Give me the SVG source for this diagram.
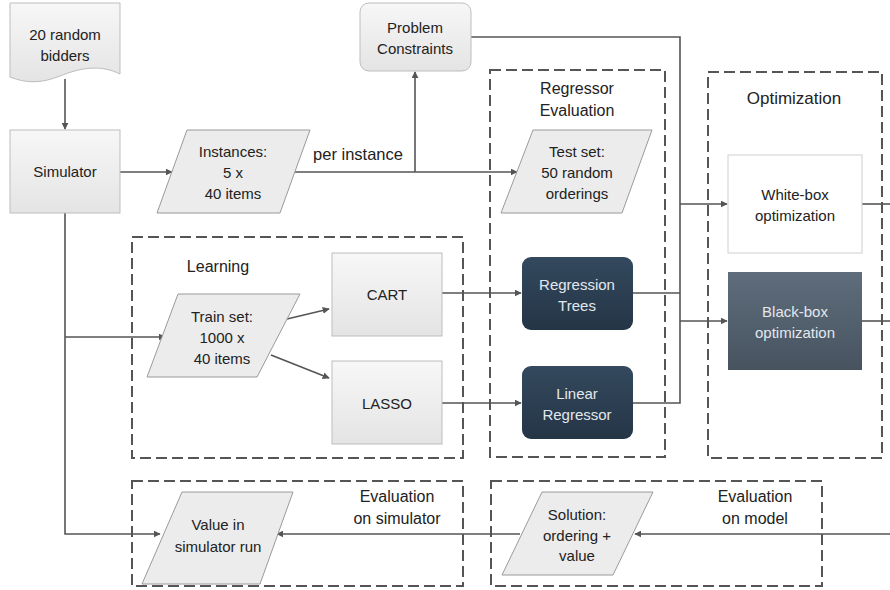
<svg xmlns="http://www.w3.org/2000/svg" width="890" height="590" viewBox="0 0 890 590">
<defs>
<linearGradient id="gLight" x1="0" y1="0" x2="0" y2="1"><stop offset="0" stop-color="#f7f7f7"/><stop offset="1" stop-color="#e4e4e4"/></linearGradient>
<linearGradient id="gNavy" x1="0" y1="0" x2="0" y2="1"><stop offset="0" stop-color="#34495e"/><stop offset="1" stop-color="#243546"/></linearGradient>
<linearGradient id="gSlate" x1="0" y1="0" x2="0" y2="1"><stop offset="0" stop-color="#5f6d7c"/><stop offset="1" stop-color="#47535f"/></linearGradient>
<marker id="arr" viewBox="0 0 10 10" refX="9" refY="5" markerWidth="7" markerHeight="7" markerUnits="userSpaceOnUse" orient="auto"><path d="M0,0 L10,5 L0,10 z" fill="#555"/></marker>
</defs>
<style>
text{font-family:"Liberation Sans",Arial,sans-serif;font-size:15px;fill:#222;text-anchor:middle}
.box{fill:url(#gLight);stroke:#bdbdbd;stroke-width:1}
.para{fill:#ececec;stroke:#9a9a9a;stroke-width:1}
.dark{fill:url(#gNavy);stroke:none}
.dtext{fill:#e3e8ee}
.group{fill:none;stroke:#555;stroke-width:2;stroke-dasharray:11 5}
.conn{fill:none;stroke:#555;stroke-width:1.6}
.arrow{marker-end:url(#arr)}
.ttl{font-size:16px}
</style>
<rect width="890" height="590" fill="#fff"/>

<g id="groups">
<rect id="learning" class="group" x="132" y="237" width="331" height="221"/>
<rect id="regressor-eval" class="group" x="490" y="70" width="175" height="387"/>
<rect id="optimization" class="group" x="708" y="72" width="174" height="386"/>
<rect id="eval-sim" class="group" x="132" y="481" width="331" height="105"/>
<rect id="eval-model" class="group" x="491" y="481" width="331" height="105"/>
<text class="ttl" x="218" y="272">Learning</text>
<text class="ttl" x="577" y="94">Regressor</text>
<text class="ttl" x="577" y="116">Evaluation</text>
<text class="ttl" x="794" y="104" style="font-size:17px">Optimization</text>
<text class="ttl" x="397" y="502">Evaluation</text>
<text class="ttl" x="397" y="524">on simulator</text>
<text class="ttl" x="755" y="502">Evaluation</text>
<text class="ttl" x="755" y="524">on model</text>
</g>

<g id="connectors">
<line class="conn arrow" x1="65" y1="79" x2="65" y2="129"/>
<line class="conn arrow" x1="120" y1="172" x2="172" y2="172"/>
<line class="conn arrow" x1="295" y1="172" x2="517" y2="172"/>
<line class="conn arrow" x1="415" y1="172" x2="415" y2="72"/>
<text x="358" y="160" style="font-size:16.5px">per instance</text>
<polyline class="conn" points="471,37 680,37 680,403 633,403"/>
<line class="conn" x1="633" y1="293" x2="680" y2="293"/>
<line class="conn arrow" x1="680" y1="204" x2="727" y2="204"/>
<line class="conn arrow" x1="680" y1="321" x2="727" y2="321"/>
<line class="conn" x1="862" y1="204" x2="890" y2="204"/>
<line class="conn" x1="862" y1="321" x2="890" y2="321"/>
<polyline class="conn" points="65,213 65,534 160,534" marker-end="url(#arr)"/>
<line class="conn arrow" x1="65" y1="337" x2="165" y2="337"/>
<line class="conn arrow" x1="287" y1="319" x2="329" y2="309"/>
<line class="conn arrow" x1="271" y1="355" x2="329" y2="378"/>
<line class="conn arrow" x1="442" y1="293" x2="521" y2="293"/>
<line class="conn arrow" x1="442" y1="403" x2="521" y2="403"/>
<line class="conn arrow" x1="890" y1="534" x2="635" y2="534"/>
<line class="conn arrow" x1="520" y1="534" x2="277" y2="534"/>
</g>

<g id="bidders">
<path class="box" d="M10,3 H120 V74 C100,64 80,68 60,76 C42,83 28,84 10,77 Z"/>
<text x="65" y="40">20 random</text>
<text x="65" y="61">bidders</text>
</g>
<g id="simulator">
<rect class="box" x="10" y="130" width="110" height="83"/>
<text x="65" y="177">Simulator</text>
</g>
<g id="instances">
<polygon class="para" points="187,130 310,130 280,213 157,213"/>
<text x="233" y="157">Instances:</text>
<text x="233" y="178">5 x</text>
<text x="233" y="199">40 items</text>
</g>
<g id="constraints">
<rect class="box" x="360" y="3" width="111" height="68" rx="9"/>
<text x="415" y="33">Problem</text>
<text x="415" y="54">Constraints</text>
</g>
<g id="testset">
<polygon class="para" points="533,130 652,130 622,213 501,213"/>
<text x="577" y="157">Test set:</text>
<text x="577" y="178">50 random</text>
<text x="577" y="199">orderings</text>
</g>
<g id="trainset">
<polygon class="para" points="178,294 300,294 257,377 147,377"/>
<text x="222" y="322">Train set:</text>
<text x="222" y="343">1000 x</text>
<text x="222" y="364">40 items</text>
</g>
<g id="cart">
<rect class="box" x="332" y="253" width="110" height="83"/>
<text x="387" y="300">CART</text>
</g>
<g id="lasso">
<rect class="box" x="332" y="361" width="110" height="83"/>
<text x="387" y="409">LASSO</text>
</g>
<g id="regtrees">
<rect class="dark" x="522" y="257" width="111" height="73" rx="9"/>
<text class="dtext" x="577" y="290">Regression</text>
<text class="dtext" x="577" y="311">Trees</text>
</g>
<g id="linreg">
<rect class="dark" x="522" y="366" width="111" height="73" rx="9"/>
<text class="dtext" x="577" y="399">Linear</text>
<text class="dtext" x="577" y="420">Regressor</text>
</g>
<g id="whitebox">
<rect x="728" y="155" width="134" height="98" fill="#fff" stroke="#cfcfcf"/>
<text x="795" y="200">White-box</text>
<text x="795" y="221">optimization</text>
</g>
<g id="blackbox">
<rect x="728" y="272" width="134" height="98" fill="url(#gSlate)"/>
<text class="dtext" x="795" y="317">Black-box</text>
<text class="dtext" x="795" y="338">optimization</text>
</g>
<g id="valuesim">
<polygon class="para" points="182,492 293,492 260,584 142,584"/>
<text x="218" y="530">Value in</text>
<text x="218" y="552">simulator run</text>
</g>
<g id="solution">
<polygon class="para" points="542,492 653,492 613,575 502,575"/>
<text x="577" y="520">Solution:</text>
<text x="577" y="541">ordering +</text>
<text x="577" y="561">value</text>
</g>
</svg>
